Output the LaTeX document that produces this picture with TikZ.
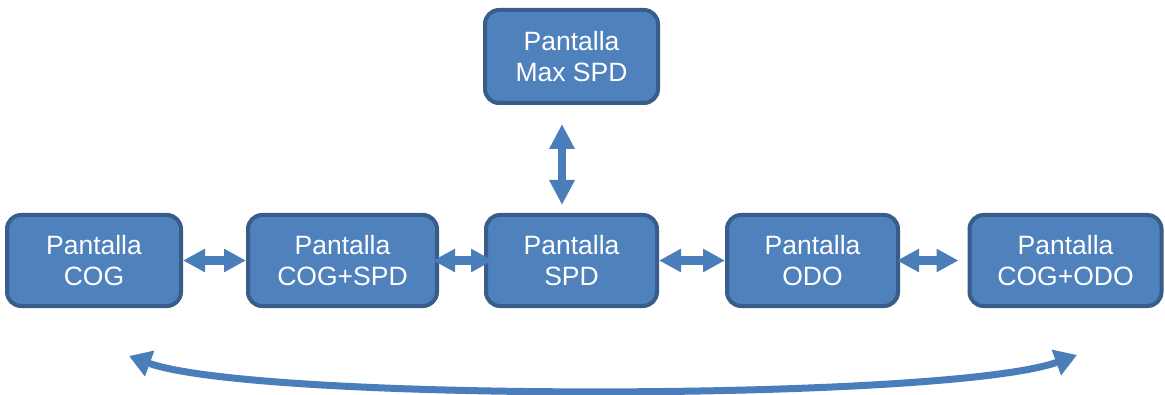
\documentclass[tikz,border=0pt]{standalone}
\usepackage{fontspec}
\setmainfont{Liberation Sans}
\usetikzlibrary{arrows.meta}
\definecolor{boxfill}{HTML}{4F81BD}
\definecolor{boxline}{HTML}{385D8A}
\definecolor{arrblue}{HTML}{4A7EBB}

\begin{document}
\begin{tikzpicture}[x=1pt, y=1pt,
		pant/.style={draw=boxline, fill=boxfill, line width=4pt, rounded corners=14pt,
			text=white, align=center, font=\fontsize{26.5}{31}\selectfont,
			minimum height=91pt, inner sep=0pt},
		dblarr/.style={draw=arrblue, line width=9pt,
			{Triangle[width=22pt,length=22pt]}-{Triangle[width=22pt,length=22pt]}}]
				\useasboundingbox (0,0) rectangle (1165,394);

				\node[pant, minimum width=173pt, minimum height=93pt] (maxspd) at (571.5,337.5) {Pantalla\\Max SPD};
				\node[pant, minimum width=174pt] (cog) at (94,133.5) {Pantalla\\COG};
				\node[pant, minimum width=189pt] (cogspd) at (342.5,133.5) {Pantalla\\COG+SPD};
				\node[pant, minimum width=171pt] (spd) at (571.5,133.5) {Pantalla\\SPD};
				\node[pant, minimum width=171pt] (odo) at (812.5,133.5) {Pantalla\\ODO};
				\node[pant, minimum width=192pt] (cogodo) at (1065.5,133.5) {Pantalla\\COG+ODO};

				\draw[dblarr] (cog) -- (cogspd);
				\draw[dblarr, shorten >=-9pt, shorten <=-6pt] (cogspd) -- (spd);
				\draw[dblarr] (spd) -- (odo);
				\draw[dblarr, shorten <=-3pt, shorten >=9pt] (odo) -- (cogodo);

				\draw[draw=arrblue, line width=8pt, shorten <=19pt, shorten >=8pt,
					{Triangle[width=24pt,length=25pt]}-{Triangle[width=24pt,length=25pt]}]
					([xshift=-9.5pt]maxspd.south) -- ([xshift=-9.5pt]spd.north);

				\coordinate (lend) at (129,38);
				\coordinate (rend) at (1077,39);
				\draw[draw=arrblue, line width=7pt,
					{Triangle[width=26pt,length=22pt]}-{Triangle[width=26pt,length=22pt]}]
					(lend) .. controls +(-20:135) and +(200:135) .. (rend);
\end{tikzpicture}
\end{document}
